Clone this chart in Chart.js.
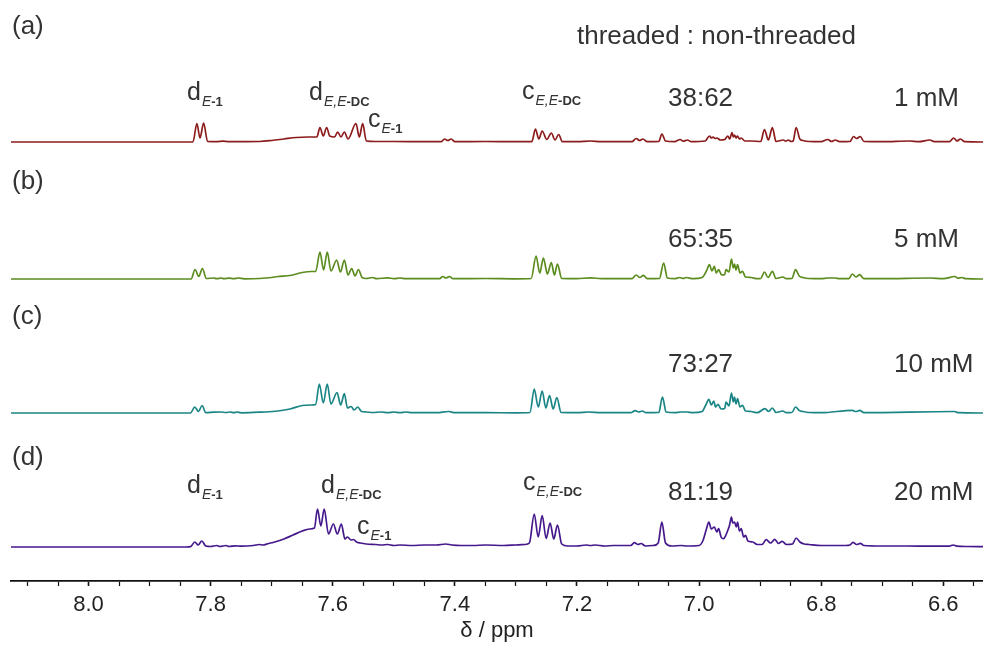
<!DOCTYPE html>
<html>
<head>
<meta charset="utf-8">
<script src="https://cdn.jsdelivr.net/npm/chart.js@4.4.1/dist/chart.umd.min.js"></script>
<style>
  html, body { margin: 0; padding: 0; background: #fff; }
  canvas { display: block; }
</style>
</head>
<body>
<canvas id="nmr" width="983" height="648"></canvas>
<script>
// spectra: [ppm, intensity]
const spec1mM = [
  [8.13,0],[7.90,0],[7.829,0],[7.8225,18.5],[7.8175,4],[7.8115,19],[7.805,0.5],[7.79,0.3],[7.78,0.8],[7.77,0.3],
  [7.72,0.5],[7.70,1.5],[7.68,3],[7.66,4.5],[7.64,5],[7.626,5],
  [7.621,14.5],[7.6155,6],[7.610,14.5],[7.605,6],[7.597,5],[7.592,10],[7.5865,5],[7.581,10],[7.575,3],
  [7.562,18.5],[7.5565,5],[7.551,18.5],[7.545,1],[7.53,0.5],[7.50,0.5],[7.45,0.3],
  [7.422,0.3],[7.417,3],[7.4115,1.5],[7.406,3],[7.40,0.3],[7.35,0.5],[7.30,0.3],
  [7.274,0.3],[7.268,13],[7.2625,3],[7.257,11],[7.2495,2.5],[7.242,9],[7.236,2],[7.230,7.5],[7.224,0.3],
  [7.20,0.3],[7.178,1],[7.16,0.3],[7.11,0.3],[7.103,3.5],[7.0975,1.5],[7.092,3],[7.085,0.3],
  [7.066,0.5],[7.061,8],[7.055,1],[7.04,0.3],[7.031,2.5],[7.026,0.8],[7.019,2],[7.013,0.3],
  [6.99,1],[6.983,6],[6.980,4],[6.977,5],[6.974,3.5],[6.971,4],[6.965,2],[6.958,2.5],[6.953,6],[6.950,3],
  [6.946,9.5],[6.944,5],[6.942,7],[6.9395,4],[6.937,6],[6.934,3],[6.931,4],[6.925,1],[6.915,1],
  [6.899,0.5],[6.893,12.5],[6.8865,2],[6.880,14.5],[6.874,0.5],[6.862,2],[6.858,0.8],[6.854,2],[6.849,0.5],
  [6.846,1],[6.841,14.5],[6.835,3],[6.83,1.5],[6.82,0.5],[6.80,0.3],[6.789,2.5],[6.783,0.5],[6.777,2],[6.77,0.3],
  [6.753,0.5],[6.747,5.5],[6.742,3.5],[6.736,5.5],[6.730,0.5],[6.70,0.3],[6.655,1],[6.64,0.3],[6.622,2],[6.615,0.3],
  [6.59,0.3],[6.583,4],[6.5775,1],[6.572,3],[6.565,0.3],[6.535,0]
];
const spec5mM = [
  [8.13,0],[7.832,0],[7.8255,9.5],[7.8195,2.5],[7.8135,10.5],[7.807,0.5],[7.795,1],[7.790,0.3],[7.783,1],[7.778,0.3],
  [7.770,0.8],[7.762,0.3],[7.755,1],[7.745,0.2],[7.72,0.5],[7.70,1.5],[7.69,2.5],[7.67,3.5],[7.65,6.5],[7.635,7.5],[7.628,7.5],
  [7.621,27],[7.615,9],[7.609,27],[7.603,8],[7.5935,19],[7.5875,7],[7.581,19],[7.575,4],[7.569,10.5],[7.5635,3],[7.558,9.5],
  [7.552,1.5],[7.545,0.5],[7.535,1.5],[7.528,0.3],[7.51,1.2],[7.50,0.3],[7.49,1],[7.48,0.3],[7.45,0.3],
  [7.425,0.3],[7.420,2.5],[7.4145,1],[7.409,2.5],[7.403,0.3],[7.35,0.5],[7.30,0.2],
  [7.275,0.5],[7.267,23],[7.261,6],[7.255,21],[7.2485,5],[7.242,16.5],[7.237,4],[7.232,15],[7.225,0.5],
  [7.20,0.3],[7.178,1.2],[7.16,0.3],[7.11,0.3],[7.103,4],[7.097,1.5],[7.091,3.7],[7.085,0.3],
  [7.065,0.5],[7.058,16],[7.052,1],[7.04,0.3],[7.032,1.5],[7.026,0.5],[7.021,1.5],[7.01,0.3],
  [6.995,1.5],[6.988,8],[6.983,14.3],[6.979,8],[6.975,12.7],[6.972,6],[6.968,9.3],[6.963,4],[6.958,4.5],
  [6.956,9.3],[6.951,7],[6.947,20],[6.944,11],[6.942,15],[6.9395,9],[6.937,14.3],[6.933,6],[6.929,7.7],[6.924,2],
  [6.915,1.5],[6.905,0.3],[6.899,0.5],[6.893,7],[6.887,1.5],[6.880,7.7],[6.874,0.5],[6.863,2],[6.857,0.3],
  [6.848,0.5],[6.842,9.3],[6.836,3],[6.83,1.5],[6.82,0.5],[6.80,0.3],[6.789,1],[6.777,1],[6.77,0.3],
  [6.755,0.3],[6.749,5],[6.743,2],[6.737,4.3],[6.73,0.3],[6.70,0.3],[6.622,1],[6.60,0.3],
  [6.581,2.5],[6.576,0.8],[6.570,1.5],[6.563,0.3],[6.535,0]
];
const spec10mM = [
  [8.13,0],[7.833,0],[7.826,6],[7.820,1.5],[7.814,7.5],[7.808,0.3],[7.795,0.8],[7.783,1],[7.775,0.5],[7.768,1],
  [7.762,0.3],[7.757,1],[7.75,0.2],[7.72,0.8],[7.71,1],[7.69,2],[7.67,4],[7.65,7.5],[7.635,8],[7.628,8.5],
  [7.622,29],[7.6155,10],[7.609,29],[7.603,9],[7.593,20.5],[7.587,8],[7.581,19.5],[7.576,5],[7.570,6.5],[7.565,3],[7.559,6],
  [7.553,1.5],[7.545,1],[7.535,0.5],[7.52,1],[7.51,0.3],[7.50,1],[7.49,0.3],[7.48,1],[7.47,0.3],[7.43,0.3],
  [7.41,1.5],[7.40,0.3],[7.35,0.3],[7.30,0.2],
  [7.277,0.5],[7.270,24],[7.2635,6],[7.257,22],[7.251,5],[7.245,17.5],[7.239,4],[7.233,15.5],[7.226,0.5],
  [7.20,0.3],[7.181,1],[7.16,0.3],[7.112,0.3],[7.105,2.3],[7.099,1],[7.093,2],[7.087,0.3],
  [7.066,0.5],[7.060,16],[7.054,1],[7.04,0.3],[7.03,1],[7.02,1],[7.01,0.3],
  [6.995,1.5],[6.989,8],[6.984,13.7],[6.980,8],[6.976,12],[6.973,6],[6.969,8.7],[6.964,4],[6.958,4.5],
  [6.956,11],[6.951,7],[6.947,20],[6.944,11],[6.942,16],[6.9395,9],[6.937,14.3],[6.933,6],[6.929,7.7],[6.924,2],
  [6.915,1.5],[6.905,0.3],[6.892,4.3],[6.886,1.5],[6.880,5],[6.874,0.5],[6.863,2],[6.857,0.3],
  [6.848,0.5],[6.842,6],[6.836,2.5],[6.83,1.5],[6.82,0.5],[6.80,0.3],
  [6.749,2.7],[6.743,1.5],[6.737,2.7],[6.73,0.3],[6.582,1.5],[6.575,0.3],[6.535,0]
];
const spec20mM = [
  [8.13,0],[7.84,0],[7.833,0.3],[7.826,5],[7.8205,2],[7.8145,6],[7.808,1],[7.80,0.5],[7.79,1.5],[7.785,0.5],
  [7.775,1.5],[7.77,0.5],[7.76,1.2],[7.75,0.8],[7.73,1.5],[7.72,2.5],[7.715,2],[7.705,3.5],[7.695,5],[7.68,8],
  [7.665,12],[7.65,16],[7.638,18],[7.630,19],
  [7.625,38],[7.6195,21],[7.614,38],[7.607,13],[7.599,23],[7.5925,13],[7.586,23],[7.580,8],[7.576,10],[7.570,7],
  [7.566,7.5],[7.561,5],[7.555,4],[7.545,3],[7.53,2.5],[7.52,2],[7.51,2.5],[7.50,1.5],[7.49,2],[7.47,1.5],[7.45,2],
  [7.43,2],[7.415,3],[7.405,2],[7.39,1.5],[7.37,1.5],[7.35,2],[7.32,1.5],[7.30,2],[7.285,2.5],
  [7.278,4],[7.270,33],[7.2635,10],[7.257,31.5],[7.2505,8.5],[7.244,24],[7.238,8],[7.232,22],[7.225,3],
  [7.215,1],[7.20,1],[7.185,2],[7.178,1.5],[7.17,2],[7.155,1],[7.14,1.5],[7.125,1.5],[7.112,1.5],
  [7.106,4.3],[7.100,2.5],[7.095,3.5],[7.088,1],[7.075,1.5],[7.067,4],[7.061,25],[7.055,4],[7.045,1],
  [7.029,1.5],[7.02,1],[7.00,1.5],[6.994,6],[6.988,18],[6.984,25],[6.980,18],[6.975,20],[6.971,15],[6.968,18.3],
  [6.964,10],[6.960,8.3],[6.956,12],[6.952,18.3],[6.950,22],[6.947,30],[6.945,24],[6.942,25],[6.939,20],[6.937,25],
  [6.934,16],[6.931,18.3],[6.927,10],[6.924,11.7],[6.920,6],[6.912,5],[6.905,2.5],[6.897,2.5],[6.890,7.3],
  [6.883,4],[6.876,7.7],[6.870,3.5],[6.864,5.7],[6.857,2.5],[6.847,3],[6.841,9],[6.835,5],[6.828,3],[6.82,2.5],
  [6.80,1.5],[6.78,1.5],[6.76,1.5],[6.753,2],[6.748,4.7],[6.742,2.5],[6.736,3.7],[6.73,1.5],[6.70,1],[6.66,1],
  [6.62,0.8],[6.59,0.8],[6.584,2],[6.578,0.8],[6.56,0.5],[6.535,0.3]
];
const concLabels = ['1 mM', '5 mM', '10 mM', '20 mM'];
const ratioLabels = ['38:62', '65:35', '73:27', '81:19'];
const panelLabels = ['(a)', '(b)', '(c)', '(d)'];
const xTicksMajor = [8.0, 7.8, 7.6, 7.4, 7.2, 7.0, 6.8, 6.6];

// layout / style
const FONT = '"Liberation Sans", Arial, Helvetica, sans-serif';
const TEXT = '#333';
const offsets = [439, 302, 168, 34];   // baseline height above the axis
const colors = ['#8c1c1c', '#5b8c1e', '#1b8585', '#45198c'];
const spectra = [spec1mM, spec5mM, spec10mM, spec20mM];

const panelY = [34, 189, 324, 465];
const ratioY = [106, 247, 372, 500];

// labels with subscripts: [x, baseline y, main letter, italic part, bold part]
const peakLabels = [
  [187, 100, 'd', 'E', '-1'],
  [309, 100, 'd', 'E,E', '-DC'],
  [368, 127, 'c', 'E', '-1'],
  [522, 99, 'c', 'E,E', '-DC'],
  [187, 493, 'd', 'E', '-1'],
  [321, 493, 'd', 'E,E', '-DC'],
  [357, 534, 'c', 'E', '-1'],
  [523, 490, 'c', 'E,E', '-DC']
];

const textPlugin = {
  id: 'nmrText',
  afterDraw(chart) {
    const ctx = chart.ctx;
    ctx.save();
    ctx.fillStyle = TEXT;
    ctx.textBaseline = 'alphabetic';
    ctx.textAlign = 'left';

    ctx.font = '26px ' + FONT;
    panelLabels.forEach((t, i) => ctx.fillText(t, 12, panelY[i]));
    ratioLabels.forEach((t, i) => ctx.fillText(t, 668, ratioY[i]));
    concLabels.forEach((t, i) => ctx.fillText(t, 894, ratioY[i]));
    ctx.fillText('threaded : non-threaded', 577, 44);

    peakLabels.forEach(([x, y, main, it, bd]) => {
      ctx.font = '25px ' + FONT;
      ctx.fillText(main, x, y);
      x += ctx.measureText(main).width + 1;
      ctx.font = 'italic 14px ' + FONT;
      ctx.fillText(it, x, y + 6);
      x += ctx.measureText(it).width;
      ctx.font = 'bold 13px ' + FONT;
      ctx.fillText(bd, x, y + 6);
    });
    ctx.restore();
  }
};

const isMajor = v => Math.abs(v * 5 - Math.round(v * 5)) < 1e-6;

new Chart(document.getElementById('nmr'), {
  type: 'line',
  data: {
    datasets: spectra.map((s, i) => ({
      label: concLabels[i],
      data: s.map(p => ({ x: p[0], y: p[1] + offsets[i] })),
      borderColor: colors[i],
      borderWidth: 1.7,
      pointRadius: 0,
      fill: false,
      cubicInterpolationMode: 'monotone'
    }))
  },
  options: {
    responsive: false,
    animation: false,
    layout: { padding: { left: 11, right: 0, top: 0, bottom: 0 } },
    plugins: { legend: { display: false }, tooltip: { enabled: false } },
    scales: {
      x: {
        type: 'linear',
        reverse: true,
        min: 6.535,
        max: 8.127,
        border: { display: true, color: '#111', width: 1.8 },
        grid: {
          drawOnChartArea: false,
          drawTicks: true,
          tickLength: 5,
          tickColor: '#111',
          tickWidth: ctx => (isMajor(ctx.tick.value) ? 1.6 : 1.2)
        },
        ticks: {
          stepSize: 0.05,
          includeBounds: false,
          autoSkip: false,
          maxRotation: 0,
          padding: 6,
          color: '#222',
          font: { size: 22, family: FONT },
          callback: v => (xTicksMajor.some(m => Math.abs(m - v) < 1e-6) ? v.toFixed(1) : '')
        },
        title: {
          display: true,
          text: 'δ / ppm',
          color: '#222',
          font: { size: 22, family: FONT },
          padding: { top: 0, bottom: 4 }
        },
        afterFit: scale => { scale.height = 67; }
      },
      y: { display: false, min: 0, max: 581 }
    }
  },
  plugins: [textPlugin]
});
</script>
</body>
</html>
